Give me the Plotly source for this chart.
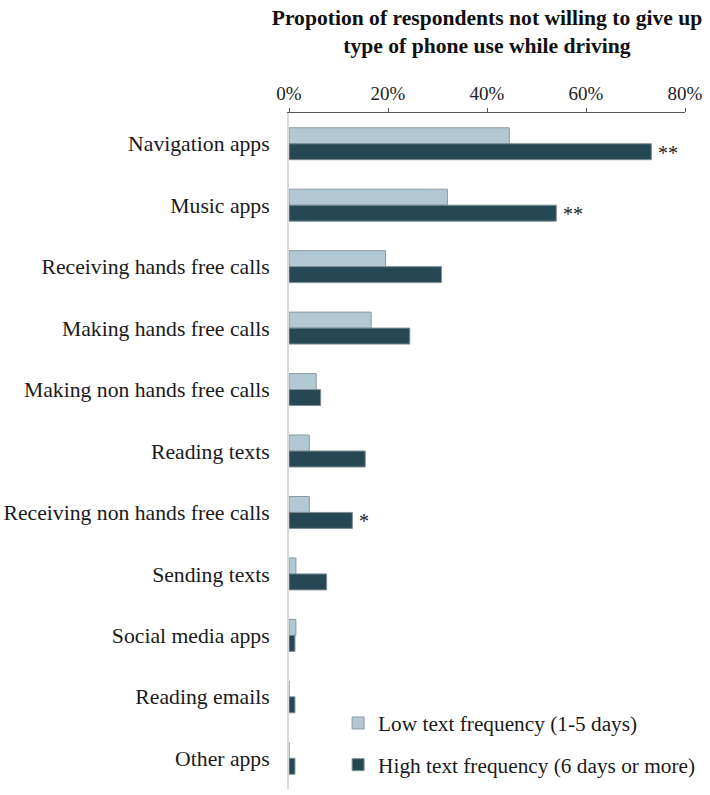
import plotly.graph_objects as go

# Data
categories = ["Navigation apps", "Music apps", "Receiving hands free calls",
              "Making hands free calls", "Making non hands free calls",
              "Reading texts", "Receiving non hands free calls", "Sending texts",
              "Social media apps", "Reading emails", "Other apps"]
low_freq = [44.5, 32.0, 19.5, 16.6, 5.5, 4.1, 4.1, 1.4, 1.4, 0, 0]
high_freq = [73.2, 54.0, 30.8, 24.4, 6.4, 15.4, 12.8, 7.6, 1.2, 1.2, 1.2]
sig_marks = ["**", "**", "", "", "", "", "*", "", "", "", ""]
x_ticks = [0, 20, 40, 60, 80]
x_tick_labels = ["0%", "20%", "40%", "60%", "80%"]

serif = "Liberation Serif"

fig = go.Figure()
fig.add_trace(go.Bar(y=categories, x=low_freq, orientation="h",
                     name="Low text frequency (1-5 days)", legendgroup="low",
                     marker=dict(color="#b2c8d2", line=dict(color="#8c9aa0", width=1))))
fig.add_trace(go.Bar(y=categories, x=high_freq, orientation="h",
                     name="High text frequency (6 days or more)", legendgroup="high",
                     marker=dict(color="#264852", line=dict(color="#7f8f94", width=1))))

# significance stars next to the dark bars
for cat, val, mark in zip(categories, high_freq, sig_marks):
    if mark:
        fig.add_annotation(x=val, y=cat, text=mark, showarrow=False, xanchor="left",
                           xshift=5, yshift=-9, font=dict(family=serif, size=20, color="#222"))

fig.update_layout(
    width=710, height=795,
    margin=dict(l=289, r=25, t=113, b=6),
    plot_bgcolor="white", paper_bgcolor="white",
    barmode="group", bargap=0.48, bargroupgap=0,
    font=dict(family=serif, color="#1a1a1a"),
    title=dict(text="<b>Propotion of respondents not willing to give up<br>type of phone use while driving</b>",
               x=0.5, xref="paper", xanchor="center", y=0.969, yanchor="middle",
               font=dict(family=serif, size=21.6, color="#111")),
    xaxis=dict(side="top", range=[0, 80], tickvals=x_ticks, ticktext=x_tick_labels,
               showgrid=False, zeroline=False, showline=True, linecolor="#555", linewidth=1,
               ticks="outside", ticklen=4, tickcolor="#555", automargin=False,
               tickfont=dict(family=serif, size=19, color="#222")),
    yaxis=dict(autorange="reversed", showgrid=False, zeroline=False, showline=True,
               linecolor="#d9d9d9", linewidth=2, ticks="", ticklabelstandoff=13,
               automargin=False, tickfont=dict(family=serif, size=21.7, color="#1a1a1a")),
    legend=dict(x=0.124, xanchor="left", y=0.005, yanchor="bottom", traceorder="grouped",
                tracegroupgap=11, font=dict(family=serif, size=21.3, color="#1a1a1a"),
                bgcolor="rgba(0,0,0,0)"),
)

# drop the page's default body margin so the figure fills the window
fig.write_html("out.html", config={"displayModeBar": False},
               post_script="document.body.style.margin='0';")
